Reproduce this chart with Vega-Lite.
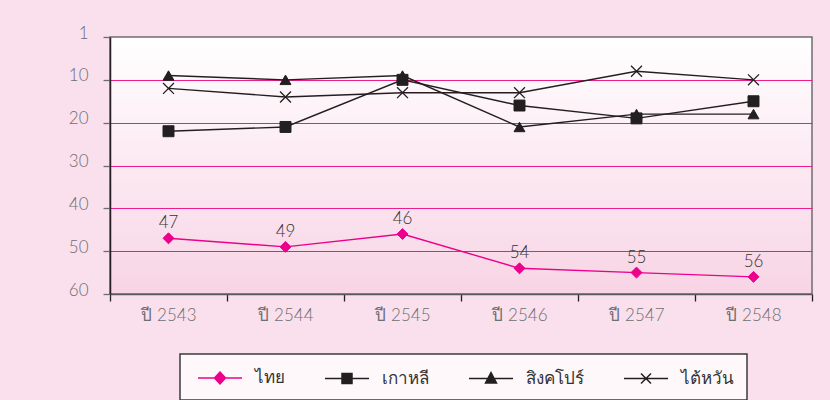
{
  "$schema": "https://vega.github.io/schema/vega-lite/v6.json",
  "width": 702,
  "height": 257,
  "autosize": {"type": "none"},
  "padding": {"left": 110, "top": 37, "right": 18, "bottom": 106},
  "background": "#FAE0EC",
  "config": {
    "font": "Lato",
    "view": {
      "stroke": "#6D6E71",
      "strokeWidth": 1.5,
      "fill": {
        "gradient": "linear",
        "x1": 0, "y1": 0, "x2": 0, "y2": 1,
        "stops": [
          {"offset": 0, "color": "#FFFFFF"},
          {"offset": 1, "color": "#F8D4E5"}
        ]
      }
    }
  },
  "data": {
    "values": [
      {"year": "ปี 2543", "country": "ไทย", "rank": 47},
      {"year": "ปี 2544", "country": "ไทย", "rank": 49},
      {"year": "ปี 2545", "country": "ไทย", "rank": 46},
      {"year": "ปี 2546", "country": "ไทย", "rank": 54},
      {"year": "ปี 2547", "country": "ไทย", "rank": 55},
      {"year": "ปี 2548", "country": "ไทย", "rank": 56},
      {"year": "ปี 2543", "country": "เกาหลี", "rank": 22},
      {"year": "ปี 2544", "country": "เกาหลี", "rank": 21},
      {"year": "ปี 2545", "country": "เกาหลี", "rank": 10},
      {"year": "ปี 2546", "country": "เกาหลี", "rank": 16},
      {"year": "ปี 2547", "country": "เกาหลี", "rank": 19},
      {"year": "ปี 2548", "country": "เกาหลี", "rank": 15},
      {"year": "ปี 2543", "country": "สิงคโปร์", "rank": 9},
      {"year": "ปี 2544", "country": "สิงคโปร์", "rank": 10},
      {"year": "ปี 2545", "country": "สิงคโปร์", "rank": 9},
      {"year": "ปี 2546", "country": "สิงคโปร์", "rank": 21},
      {"year": "ปี 2547", "country": "สิงคโปร์", "rank": 18},
      {"year": "ปี 2548", "country": "สิงคโปร์", "rank": 18},
      {"year": "ปี 2543", "country": "ไต้หวัน", "rank": 12},
      {"year": "ปี 2544", "country": "ไต้หวัน", "rank": 14},
      {"year": "ปี 2545", "country": "ไต้หวัน", "rank": 13},
      {"year": "ปี 2546", "country": "ไต้หวัน", "rank": 13},
      {"year": "ปี 2547", "country": "ไต้หวัน", "rank": 8},
      {"year": "ปี 2548", "country": "ไต้หวัน", "rank": 10}
    ]
  },
  "encoding": {
    "x": {
      "field": "year",
      "type": "ordinal",
      "sort": null,
      "scale": {"type": "band", "paddingInner": 0, "paddingOuter": 0},
      "axis": {
        "title": null,
        "labelAngle": 0,
        "tickBand": "extent",
        "domainColor": "#58595B",
        "domainWidth": 1.5,
        "tickColor": "#231F20",
        "tickWidth": 1.3,
        "tickSize": 7,
        "labelColor": "#6D6E71",
        "labelFontSize": 17,
        "labelFontWeight": 300,
        "labelPadding": 6,
        "grid": false
      }
    },
    "y": {
      "field": "rank",
      "type": "quantitative",
      "scale": {"domain": [0, 60], "reverse": true, "nice": false, "zero": false},
      "axis": {
        "title": null,
        "values": [0, 10, 20, 30, 40, 50, 60],
        "labelExpr": "datum.value === 0 ? '1' : datum.label",
        "domainColor": "#231F20",
        "domainWidth": 1.5,
        "tickColor": "#6D6E71",
        "tickWidth": 1.3,
        "tickSize": 7,
        "labelPadding": 15,
        "labelOffset": -4,
        "labelFontSize": 17,
        "labelFontWeight": 300,
        "labelColor": "#6D6E71",
        "grid": true,
        "gridWidth": 1,
        "gridColor": {
          "condition": {"test": "datum.value === 0 || datum.value === 60", "value": null},
          "value": "#EC1C8C"
        }
      }
    },
    "color": {
      "field": "country",
      "type": "nominal",
      "scale": {
        "domain": ["ไทย", "เกาหลี", "สิงคโปร์", "ไต้หวัน"],
        "range": ["#EC008C", "#231F20", "#231F20", "#231F20"]
      },
      "legend": {
        "title": null,
        "orient": "none",
        "legendX": 70,
        "legendY": 317,
        "direction": "horizontal",
        "symbolSize": 400,
        "symbolOffset": 16,
        "labelOffset": 24,
        "columnPadding": 35,
        "padding": 13,
        "strokeColor": "#3A3A3C",
        "fillColor": "#FFF8FB",
        "labelFontSize": 17,
        "labelColor": "#333333",
        "encode": {
          "legend": {"update": {"strokeWidth": {"value": 1.5}}},
          "symbols": {
            "update": {
              "shape": {"signal": "datum.value === 'ไทย' ? 'M-2.2,0H2.2M0,-0.6L0.55,0L0,0.6L-0.55,0Z' : datum.value === 'เกาหลี' ? 'M-2.2,0H2.2M-0.5,-0.5H0.5V0.5H-0.5Z' : datum.value === 'สิงคโปร์' ? 'M-2.2,0H2.2M0,-0.6L0.55,0.45L-0.55,0.45Z' : 'M-2.2,0H2.2M-0.5,-0.5L0.5,0.5M-0.5,0.5L0.5,-0.5'"},
              "fill": {"scale": "color", "field": "value"},
              "stroke": {"scale": "color", "field": "value"},
              "strokeWidth": {"value": 1.5},
              "opacity": {"value": 1}
            }
          }
        }
      }
    }
  },
  "layer": [
    {
      "mark": {"type": "line", "strokeWidth": 1.4},
      "encoding": {}
    },
    {
      "transform": [{"filter": "datum.country === 'ไทย'"}],
      "mark": {"type": "point", "shape": "diamond", "filled": true, "size": 120, "stroke": "#EC008C", "strokeWidth": 1, "opacity": 1}
    },
    {
      "transform": [{"filter": "datum.country === 'เกาหลี'"}],
      "mark": {"type": "point", "shape": "square", "filled": true, "size": 120, "stroke": "#231F20", "strokeWidth": 1, "opacity": 1}
    },
    {
      "transform": [{"filter": "datum.country === 'สิงคโปร์'"}],
      "mark": {"type": "point", "shape": "triangle-up", "filled": true, "size": 120, "stroke": "#231F20", "strokeWidth": 1, "opacity": 1}
    },
    {
      "transform": [{"filter": "datum.country === 'ไต้หวัน'"}],
      "mark": {"type": "point", "shape": "M-1,-1L1,1M-1,1L1,-1", "filled": true, "size": 120, "stroke": "#231F20", "strokeWidth": 1.3, "opacity": 1}
    },
    {
      "transform": [{"filter": "datum.country === 'ไทย'"}],
      "mark": {"type": "text", "dy": -10, "baseline": "alphabetic", "fontSize": 17, "fontWeight": 300},
      "encoding": {
        "text": {"field": "rank", "type": "quantitative"},
        "color": {"value": "#333333"}
      }
    }
  ]
}
